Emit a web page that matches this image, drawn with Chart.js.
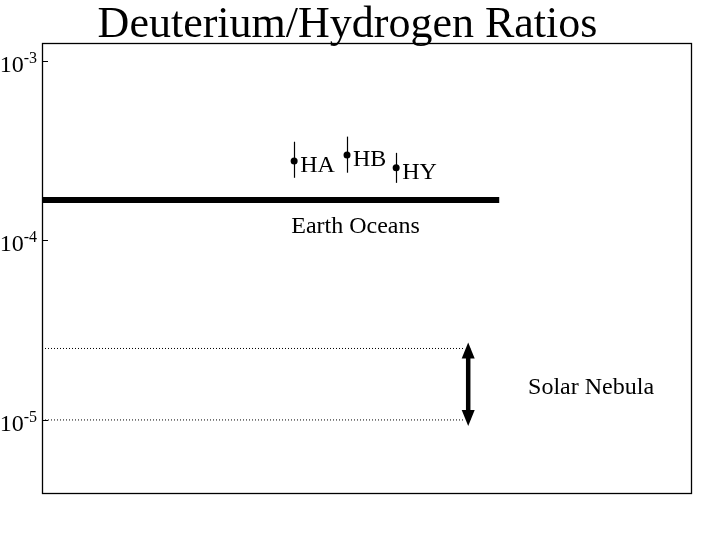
<!DOCTYPE html>
<html>
<head>
<meta charset="utf-8">
<script src="https://cdn.jsdelivr.net/npm/chart.js@4.4.1/dist/chart.umd.min.js"></script>
<style>
  html, body { margin: 0; padding: 0; background: #fff; }
  #wrap { width: 720px; height: 540px; }
</style>
</head>
<body>
<div id="wrap"><canvas id="c" width="720" height="540"></canvas></div>
<script>
// ---- data ----
const titleText = 'Deuterium/Hydrogen Ratios';
const sources = ['HA', 'HB', 'HY'];
const sourceX = [38.85, 47.0, 54.57];
const dhValue = [2.77e-4, 2.99e-4, 2.54e-4];
const dhHigh = [3.54e-4, 3.78e-4, 3.07e-4];
const dhLow = [2.23e-4, 2.38e-4, 2.09e-4];
const earthLabel = 'Earth Oceans';
const earthOceans = 1.68e-4;
const earthXRange = [0, 70.45];
const earthLabelX = 38.4;
const nebulaLabel = 'Solar Nebula';
const solarNebula = [1.0e-5, 2.5e-5];
const nebulaLineEnd = 64.9;
const nebulaArrowX = 65.67;
const nebulaLabelX = 74.9;
const yTicks = [1e-3, 1e-4, 1e-5];
const yTickExp = ['-3', '-4', '-5'];
const yMin = 3.92e-6;
const yMax = 1.2555e-3;

const serif = '"Liberation Serif", "DejaVu Serif", serif';

const overlay = {
  id: 'overlay',
  afterDatasetsDraw(chart) {
    const ctx = chart.ctx;
    const xs = chart.scales.x, ys = chart.scales.y;
    const a = chart.chartArea;
    ctx.save();
    ctx.fillStyle = '#000';
    ctx.strokeStyle = '#000';

    // error bars
    ctx.lineWidth = 1.2;
    for (let i = 0; i < sources.length; i++) {
      const px = Math.round(xs.getPixelForValue(sourceX[i])) + 0.5;
      ctx.beginPath();
      ctx.moveTo(px, ys.getPixelForValue(dhHigh[i]));
      ctx.lineTo(px, ys.getPixelForValue(dhLow[i]));
      ctx.stroke();
    }

    // source labels
    ctx.font = '24px ' + serif;
    ctx.textAlign = 'left';
    ctx.textBaseline = 'alphabetic';
    for (let i = 0; i < sources.length; i++) {
      const px = xs.getPixelForValue(sourceX[i]);
      const py = ys.getPixelForValue(dhValue[i]);
      ctx.fillText(sources[i], px + 6, py + 11);
    }

    // Earth oceans label
    ctx.fillText(earthLabel, xs.getPixelForValue(earthLabelX), ys.getPixelForValue(earthOceans) + 33);

    // Solar nebula arrow heads
    const ax = xs.getPixelForValue(nebulaArrowX);
    const yTop = ys.getPixelForValue(solarNebula[1]);
    const yBot = ys.getPixelForValue(solarNebula[0]);
    ctx.beginPath();
    ctx.moveTo(ax, yTop - 6);
    ctx.lineTo(ax - 6.5, yTop + 10);
    ctx.lineTo(ax + 6.5, yTop + 10);
    ctx.closePath();
    ctx.fill();
    ctx.beginPath();
    ctx.moveTo(ax, yBot + 6);
    ctx.lineTo(ax - 6.5, yBot - 10);
    ctx.lineTo(ax + 6.5, yBot - 10);
    ctx.closePath();
    ctx.fill();

    // Solar nebula label
    const logMid = (Math.log10(solarNebula[0]) + Math.log10(solarNebula[1])) / 2;
    ctx.fillText(nebulaLabel, xs.getPixelForValue(nebulaLabelX), ys.getPixelForValue(Math.pow(10, logMid)) + 10);

    // frame
    ctx.lineWidth = 1.3;
    ctx.strokeRect(Math.round(a.left) + 0.5, Math.round(a.top) + 0.5,
                   Math.round(a.right - a.left), Math.round(a.bottom - a.top));

    // y ticks and labels
    ctx.lineWidth = 1;
    for (let i = 0; i < yTicks.length; i++) {
      const py = Math.round(ys.getPixelForValue(yTicks[i])) + 0.5;
      ctx.beginPath();
      ctx.moveTo(a.left, py);
      ctx.lineTo(a.left + 6, py);
      ctx.stroke();
      ctx.font = '16px ' + serif;
      const supW = ctx.measureText(yTickExp[i]).width;
      ctx.textAlign = 'right';
      ctx.fillText(yTickExp[i], a.left - 5, py + 1);
      ctx.font = '24px ' + serif;
      ctx.fillText('10', a.left - 5 - supW, py + 10);
    }

    // title
    ctx.font = '44px ' + serif;
    ctx.textAlign = 'center';
    ctx.fillText(titleText, 347.5, 37);
    ctx.restore();
  }
};

new Chart(document.getElementById('c'), {
  type: 'scatter',
  data: {
    datasets: [
      {
        label: earthLabel,
        data: [{ x: earthXRange[0], y: earthOceans }, { x: earthXRange[1], y: earthOceans }],
        showLine: true, borderColor: '#000', borderWidth: 6, pointRadius: 0, borderCapStyle: 'butt'
      },
      {
        label: 'nebula upper',
        data: [{ x: 0, y: solarNebula[1] }, { x: nebulaLineEnd, y: solarNebula[1] }],
        showLine: true, borderColor: '#000', borderWidth: 1, borderDash: [1, 2], pointRadius: 0
      },
      {
        label: 'nebula lower',
        data: [{ x: 0, y: solarNebula[0] }, { x: nebulaLineEnd, y: solarNebula[0] }],
        showLine: true, borderColor: '#000', borderWidth: 1, borderDash: [1, 2], pointRadius: 0
      },
      {
        label: nebulaLabel,
        data: [{ x: nebulaArrowX, y: solarNebula[1] }, { x: nebulaArrowX, y: solarNebula[0] }],
        showLine: true, borderColor: '#000', borderWidth: 4.5, pointRadius: 0
      },
      {
        label: 'D/H',
        data: sources.map((s, i) => ({ x: sourceX[i], y: dhValue[i] })),
        pointRadius: 3.5, pointBackgroundColor: '#000', pointBorderColor: '#000', borderWidth: 0
      }
    ]
  },
  options: {
    responsive: false,
    animation: false,
    devicePixelRatio: 1,
    layout: { padding: { left: 42, top: 43, right: 29, bottom: 47 } },
    plugins: { legend: { display: false }, tooltip: { enabled: false }, title: { display: false } },
    scales: {
      x: { type: 'linear', min: 0, max: 100, display: false },
      y: { type: 'logarithmic', min: yMin, max: yMax, display: false }
    }
  },
  plugins: [overlay]
});
</script>
</body>
</html>
